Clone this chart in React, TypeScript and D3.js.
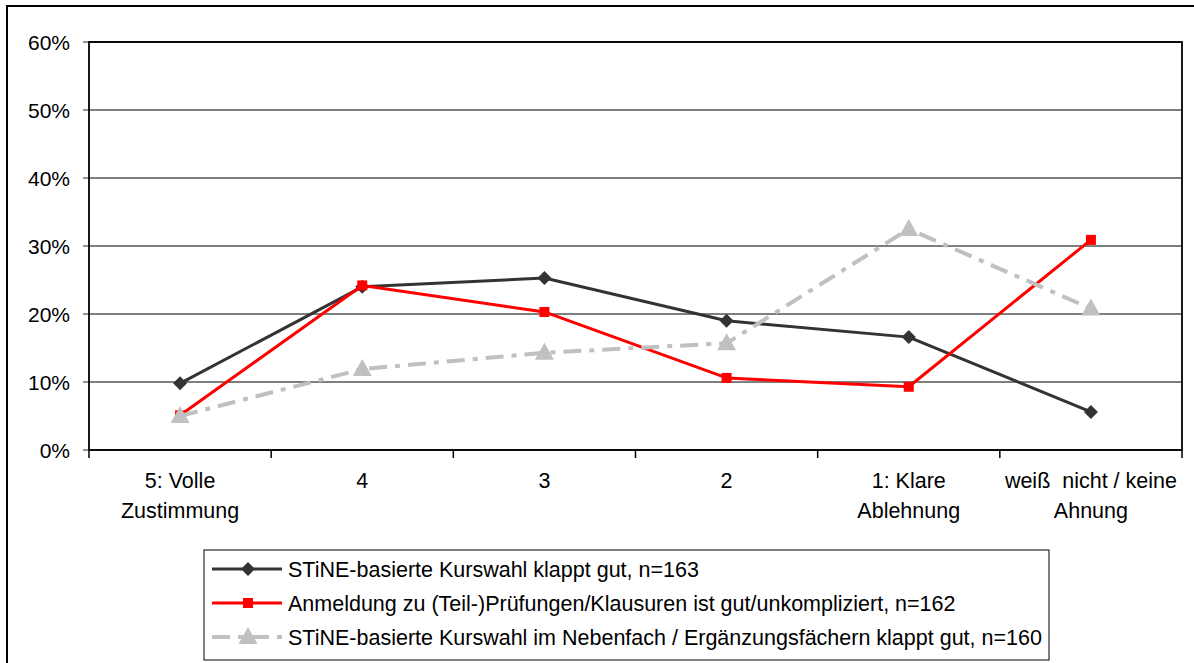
import React from "react";
import * as d3 from "d3";

const categories: string[][] = [
  ["5: Volle", "Zustimmung"],
  ["4"],
  ["3"],
  ["2"],
  ["1: Klare", "Ablehnung"],
  ["weiß  nicht / keine", "Ahnung"],
];
const kurswahl = [9.8, 24.0, 25.3, 19.0, 16.6, 5.6];
const anmeldung = [5.1, 24.2, 20.3, 10.6, 9.3, 30.9];
const nebenfach = [5.0, 11.9, 14.3, 15.7, 32.5, 20.8];
const yTicks = [0, 10, 20, 30, 40, 50, 60];
const legendLabels = [
  "STiNE-basierte Kurswahl klappt gut, n=163",
  "Anmeldung zu (Teil-)Prüfungen/Klausuren ist gut/unkompliziert, n=162",
  "STiNE-basierte Kurswahl im Nebenfach / Ergänzungsfächern klappt gut, n=160",
];

const W = 1194, H = 663;
const L = 89, R = 1182, T = 42, B = 450;
const FONT = "'Liberation Sans', Arial, sans-serif";

const series = [
  { values: kurswahl, color: "#333333", marker: "diamond", dash: undefined as string | undefined, width: 3 },
  { values: anmeldung, color: "#ff0000", marker: "square", dash: undefined, width: 3 },
  { values: nebenfach, color: "#c0c0c0", marker: "triangle", dash: "18,8,5,8", width: 4 },
];

function Marker({ kind, x, y, color }: { kind: string; x: number; y: number; color: string }) {
  if (kind === "diamond") {
    const s = 7;
    return <path d={`M${x},${y - s}L${x + s},${y}L${x},${y + s}L${x - s},${y}Z`} fill={color} />;
  }
  if (kind === "square") {
    return <rect x={x - 5} y={y - 5} width={10} height={10} fill={color} />;
  }
  return <path d={`M${x},${y - 10}L${x + 9.5},${y + 7}L${x - 9.5},${y + 7}Z`} fill={color} />;
}

export default function App() {
  const x = d3.scaleBand<number>().domain(d3.range(categories.length)).range([L, R]);
  const y = d3.scaleLinear().domain([0, 60]).range([B, T]);
  const cx = (i: number) => (x(i) as number) + x.bandwidth() / 2;
  const line = d3
    .line<number>()
    .x((_, i) => cx(i))
    .y((v) => y(v));

  const boundaries = d3.range(categories.length + 1).map((i) => L + i * x.bandwidth());

  return (
    <svg width={W} height={H} style={{ position: "absolute", left: 0, top: 0 }} fontFamily={FONT}>
      <rect x={0} y={0} width={W} height={H} fill="#fff" />
      <rect x={7} y={6} width={W + 10} height={H + 10} fill="none" stroke="#000" strokeWidth={2} />
      {yTicks.map((t) => (
        <g key={t}>
          <line x1={L} x2={R} y1={y(t)} y2={y(t)} stroke="#555" strokeWidth={1.3} />
          <line x1={L - 6} x2={L} y1={y(t)} y2={y(t)} stroke="#555" strokeWidth={1.3} />
          <text x={70} y={y(t) + 7.5} textAnchor="end" fontSize={21} fill="#000">
            {t}%
          </text>
        </g>
      ))}
      <rect x={L} y={T} width={R - L} height={B - T} fill="none" stroke="#000" strokeWidth={1.8} />
      {boundaries.map((b, i) => (
        <line key={i} x1={b} x2={b} y1={B} y2={B + 8} stroke="#000" strokeWidth={1.5} />
      ))}
      {categories.map((c, i) =>
        c.map((ln, j) => (
          <text key={i + "-" + j} x={cx(i)} y={488 + j * 30} textAnchor="middle" fontSize={21.5} fill="#000" style={{ whiteSpace: "pre" }}>
            {ln}
          </text>
        ))
      )}
      {series.map((s, k) => (
        <g key={k}>
          <path d={line(s.values) || ""} fill="none" stroke={s.color} strokeWidth={s.width} strokeDasharray={s.dash} strokeLinejoin="round" />
          {s.values.map((v, i) => (
            <Marker key={i} kind={s.marker} x={cx(i)} y={y(v)} color={s.color} />
          ))}
        </g>
      ))}
      <rect x={204} y={550} width={845} height={110} fill="#fff" stroke="#000" strokeWidth={1} />
      {series.map((s, k) => {
        const ly = 569 + k * 34;
        return (
          <g key={k}>
            <line x1={212} x2={282} y1={ly} y2={ly} stroke={s.color} strokeWidth={s.width} strokeDasharray={s.dash} />
            <Marker kind={s.marker} x={248} y={ly} color={s.color} />
            <text x={288} y={ly + 7.5} fontSize={21.5} fill="#000">
              {legendLabels[k]}
            </text>
          </g>
        );
      })}
    </svg>
  );
}
